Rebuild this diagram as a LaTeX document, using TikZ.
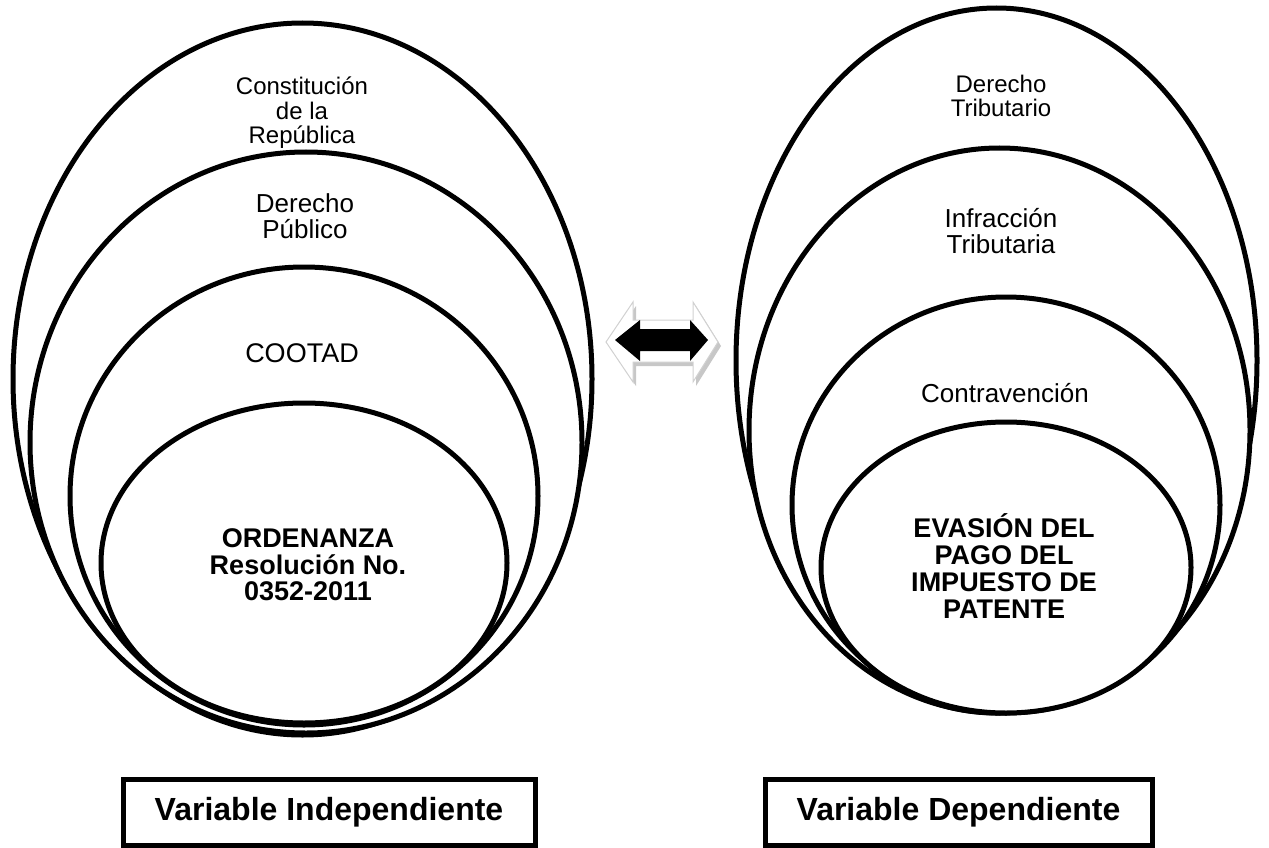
\documentclass[tikz,border=0pt]{standalone}
\usepackage{fontspec}
\setmainfont{Liberation Sans}
\usetikzlibrary{shapes.geometric}
\begin{document}
\begin{tikzpicture}[x=1pt,y=-1pt,
  ring/.style={ellipse, draw, line width=5pt, fill=white, inner sep=0pt, outer sep=0pt},
  lbl/.style={align=center, inner sep=0pt},
  reg/.style={font=\fontsize{24}{24.5}\selectfont},
  regb/.style={font=\fontsize{26}{26}\selectfont},
  bld/.style={font=\fontsize{27}{26.7}\selectfont\bfseries},
  varbox/.style={draw, line width=5pt, inner sep=0pt, font=\fontsize{32}{33}\selectfont\bfseries},
  arrowshadow/.style={fill=black!22},
  arrowface/.style={fill=white, draw=black!18, line width=1pt},
  arrowcore/.style={fill=black}
]
\useasboundingbox (0,0) rectangle (1269,848);

% left group
\node[ring, minimum width=579pt, minimum height=712pt] (L1) at (302.5,379) {};
\node[ring, minimum width=552pt, minimum height=581pt] (L2) at (306,442.5) {};
\node[ring, minimum width=468pt, minimum height=458pt] (L3) at (304,496) {};
\node[ring, minimum width=406pt, minimum height=320pt] (L4) at (304,563) {};

% right group
\node[ring, minimum width=521pt, minimum height=705pt] (R1) at (996.5,360.5) {};
\node[ring, minimum width=501pt, minimum height=565pt] (R2) at (999.5,430.5) {};
\node[ring, minimum width=428pt, minimum height=416pt] (R3) at (1006,505) {};
\node[ring, minimum width=370pt, minimum height=291pt] (R4) at (1006,567.5) {};

% left texts
\node[lbl, reg] (tconst) at (302,113) {Constitución\\de la\\República};
\node[lbl, regb] (tpub) at (305,216) {Derecho\\Público};
\node[lbl, font=\fontsize{27}{27}\selectfont] (tcoot) at (302,353) {COOTAD};
\node[lbl, bld] (tord) at (308,565) {ORDENANZA\\Resolución No.\\0352-2011};

% right texts
\node[lbl, reg] (ttrib) at (1001,96) {Derecho\\Tributario};
\node[lbl, regb] (tinf) at (1001,231) {Infracción\\Tributaria};
\node[lbl, regb] (tcontra) at (1005,393) {Contravención};
\node[lbl, bld] (teva) at (1004,566) {EVASIÓN DEL\\PAGO DEL\\IMPUESTO DE\\PATENTE};

% double arrow
\fill[arrowshadow] (609,346) -- (636,306) -- (636,324) -- (696,324) -- (696,306) -- (721,346) -- (696,386) -- (696,366) -- (636,366) -- (636,386) -- cycle;
\filldraw[arrowface] (606,342) -- (633,302) -- (633,320) -- (693,320) -- (693,302) -- (718,342) -- (693,382) -- (693,362) -- (633,362) -- (633,382) -- cycle;
\fill[arrowcore] (615,340) -- (640,320) -- (640,329) -- (690,329) -- (690,320) -- (708,340) -- (690,361) -- (690,351) -- (640,351) -- (640,361) -- cycle;

% boxes
\node[varbox, minimum width=412pt, minimum height=66pt] (vind) at (329,812) {Variable Independiente};
\node[varbox, minimum width=387pt, minimum height=66pt] (vdep) at (958.5,812) {Variable Dependiente};
\end{tikzpicture}
\end{document}
